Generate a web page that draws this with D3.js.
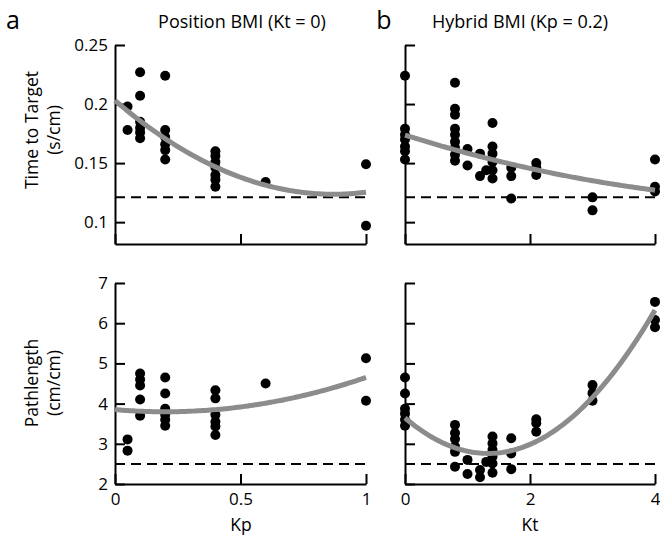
<!DOCTYPE html>
<html>
<head>
<meta charset="utf-8">
<script src="https://cdn.jsdelivr.net/npm/d3@7"></script>
<style>
  body { margin: 0; background: #fff; }
  svg { font-family: "Open Sans", sans-serif; }
</style>
</head>
<body>
<svg width="660" height="542"></svg>
<script>
// panel a, top: time to target vs Kp
var kpTime = [0.05, 0.05, 0.1, 0.1, 0.1, 0.1, 0.1, 0.1, 0.2, 0.2, 0.2, 0.2, 0.2, 0.2,
              0.4, 0.4, 0.4, 0.4, 0.4, 0.4, 0.4, 0.6, 1, 1];
var timeA = [0.198, 0.178, 0.227, 0.207, 0.185, 0.180, 0.176, 0.171, 0.224, 0.178, 0.172, 0.166, 0.161, 0.153,
             0.160, 0.156, 0.151, 0.146, 0.140, 0.136, 0.130, 0.134, 0.149, 0.097];
// panel a, bottom: pathlength vs Kp
var kpPath = [0.05, 0.05, 0.1, 0.1, 0.1, 0.1, 0.1, 0.2, 0.2, 0.2, 0.2, 0.2, 0.2,
              0.4, 0.4, 0.4, 0.4, 0.4, 0.4, 0.6, 1, 1];
var pathA = [3.11, 2.83, 4.75, 4.6, 4.45, 4.1, 3.7, 4.65, 4.25, 3.87, 3.72, 3.6, 3.45,
             4.33, 4.13, 3.72, 3.55, 3.43, 3.22, 4.5, 5.13, 4.07];
// panel b, top: time to target vs Kt
var ktTime = [0, 0, 0, 0, 0, 0, 0, 0.8, 0.8, 0.8, 0.8, 0.8, 0.8, 0.8, 0.8, 0.8, 1.0, 1.0, 1.2, 1.2, 1.3,
              1.4, 1.4, 1.4, 1.4, 1.4, 1.4, 1.7, 1.7, 1.7, 2.1, 2.1, 2.1, 3, 3, 4, 4, 4];
var timeB = [0.224, 0.179, 0.174, 0.170, 0.164, 0.160, 0.153, 0.218, 0.196, 0.191, 0.179, 0.174, 0.168, 0.163, 0.157, 0.152,
             0.162, 0.148, 0.158, 0.139, 0.144, 0.184, 0.164, 0.158, 0.151, 0.144, 0.137,
             0.146, 0.139, 0.120, 0.150, 0.146, 0.140, 0.121, 0.110, 0.153, 0.130, 0.126];
// panel b, bottom: pathlength vs Kt
var ktPath = [0, 0, 0, 0, 0, 0, 0.8, 0.8, 0.8, 0.8, 0.8, 0.8, 1.0, 1.0, 1.2, 1.2, 1.3,
              1.4, 1.4, 1.4, 1.4, 1.4, 1.4, 1.7, 1.7, 1.7, 2.1, 2.1, 2.1, 3, 3, 3, 4, 4, 4];
var pathB = [4.65, 4.25, 3.87, 3.75, 3.6, 3.45, 3.47, 3.27, 3.12, 2.93, 2.8, 2.43, 2.6, 2.25, 2.35, 2.17, 2.55,
             3.18, 3.01, 2.85, 2.68, 2.51, 2.28, 3.14, 2.76, 2.37, 3.61, 3.51, 3.30, 4.46, 4.26, 4.07, 6.53, 6.08, 5.9];

// quadratic fit coefficients [c0, c1, c2]
var fitTimeA = [0.203, -0.1824, 0.1048];
var fitPathA = [3.85, -0.533, 1.333];
var fitTimeB = [0.1737, -0.01655, 0.001225];
var fitPathB = [3.645, -1.33, 0.5];

// baseline (dashed) levels
var baseTime = 0.121, basePath = 2.5;

var kpTicks = [0, 0.5, 1], ktTicks = [0, 2, 4];
var timeTicks = [0.1, 0.15, 0.2, 0.25], pathTicks = [2, 3, 4, 5, 6, 7];

var svg = d3.select("svg");

var xKp = d3.scaleLinear().domain([0, 1]).range([115, 366]),
    xKt = d3.scaleLinear().domain([0, 4]).range([405, 655]),
    yTime = d3.scaleLinear().domain([0.0815, 0.25]).range([244, 45]),
    yPath = d3.scaleLinear().domain([2, 7]).range([484, 283]);

var fmt = d3.format("~g");

function panel(x, y, xs, ys, fit, base, xTicks, yTicks, yLabels, showX) {
    var g = svg.append("g");

    // y axis, ticks pointing inwards
    var ya = d3.axisLeft(y).tickValues(yTicks).tickSizeInner(-10).tickSizeOuter(0).tickPadding(7)
        .tickFormat(yLabels ? fmt : "");
    g.append("g").attr("class", "axis")
        .attr("transform", "translate(" + x.range()[0] + ",0)")
        .call(ya);

    var xa = d3.axisBottom(x).tickValues(xTicks).tickSizeInner(-10).tickSizeOuter(0).tickPadding(9)
        .tickFormat(showX ? fmt : "");
    g.append("g").attr("class", "axis")
        .attr("transform", "translate(0," + y.range()[0] + ")")
        .call(xa);

    g.selectAll(".axis path, .axis line").attr("stroke", "#000").attr("stroke-width", 2);
    g.selectAll(".axis text").attr("font-size", 17).attr("fill", "#000")
        .attr("font-family", "Open Sans");

    // dashed baseline
    g.append("line")
        .attr("x1", x.range()[0]).attr("x2", x.range()[1])
        .attr("y1", y(base)).attr("y2", y(base))
        .attr("stroke", "#000").attr("stroke-width", 2)
        .attr("stroke-dasharray", "10,6");

    // fitted curve
    var d0 = x.domain();
    var xsFit = d3.range(0, 101).map(function(i) { return d0[0] + (d0[1] - d0[0]) * i / 100; });
    var line = d3.line()
        .x(function(d) { return x(d); })
        .y(function(d) { return y(fit[0] + fit[1] * d + fit[2] * d * d); });

    // dots
    g.selectAll("circle").data(xs).enter().append("circle")
        .attr("cx", function(d) { return x(d); })
        .attr("cy", function(d, i) { return y(ys[i]); })
        .attr("r", 5)
        .attr("fill", "#000");

    g.append("path").datum(xsFit)
        .attr("d", line)
        .attr("fill", "none")
        .attr("stroke", "#8c8c8c")
        .attr("stroke-width", 5);
}

panel(xKp, yTime, kpTime, timeA, fitTimeA, baseTime, kpTicks, timeTicks, true, false);
panel(xKt, yTime, ktTime, timeB, fitTimeB, baseTime, ktTicks, timeTicks, false, false);
panel(xKp, yPath, kpPath, pathA, fitPathA, basePath, kpTicks, pathTicks, true, true);
panel(xKt, yPath, ktPath, pathB, fitPathB, basePath, ktTicks, pathTicks, false, true);

// titles and labels
function label(txt, x, y, size, rot) {
    svg.append("text")
        .attr("transform", "translate(" + x + "," + y + ")" + (rot ? "rotate(-90)" : ""))
        .attr("text-anchor", "middle")
        .attr("font-size", size)
        .attr("fill", "#000")
        .text(txt);
}
label("a", 13, 29, 25);
label("b", 384, 29, 25);
label("Position BMI (Kt = 0)", 242, 28, 18);
label("Hybrid BMI (Kp = 0.2)", 520, 28, 18);
label("Time to Target", 38, 130, 17.5, true);
label("(s/cm)", 60, 130, 17.5, true);
label("Pathlength", 38, 383, 17.5, true);
label("(cm/cm)", 60, 383, 17.5, true);
label("Kp", 241, 531, 17.5);
label("Kt", 530, 531, 17.5);
</script>
</body>
</html>
